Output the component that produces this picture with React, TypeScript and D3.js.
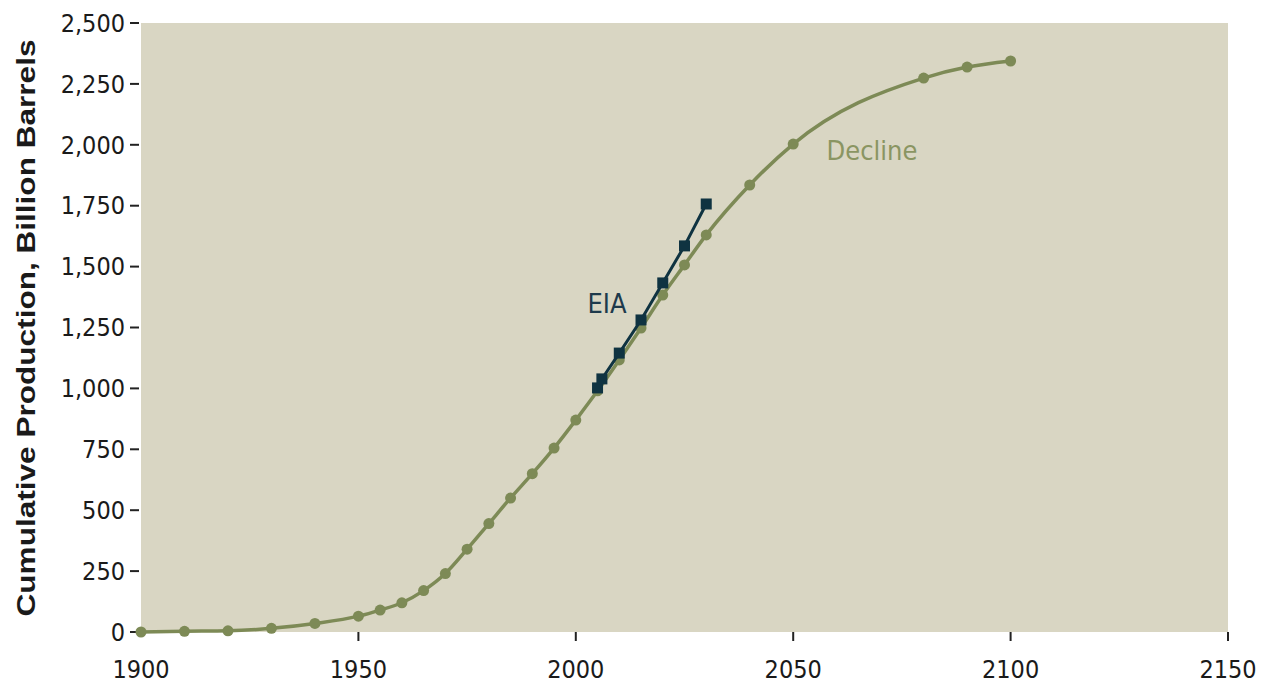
import React from "react";
import * as d3 from "d3";

const declineYears = [1900, 1910, 1920, 1930, 1940, 1950, 1955, 1960, 1965, 1970, 1975, 1980, 1985, 1990, 1995, 2000, 2005, 2010, 2015, 2020, 2025, 2030, 2040, 2050, 2080, 2090, 2100];
const declineValues = [0, 3, 5, 15, 35, 65, 90, 120, 170, 240, 340, 445, 550, 650, 755, 870, 990, 1117, 1248, 1383, 1507, 1630, 1835, 2003, 2274, 2319, 2344];
const eiaYears = [2005, 2006, 2010, 2015, 2020, 2025, 2030];
const eiaValues = [1002, 1039, 1145, 1281, 1433, 1585, 1757];
const yTicks = [0, 250, 500, 750, 1000, 1250, 1500, 1750, 2000, 2250, 2500];
const xTicks = [1900, 1950, 2000, 2050, 2100, 2150];

const W = 1267, H = 685;
const left = 141, right = 1228, top = 23, bottom = 632;
const font = "'Liberation Sans Narrow', 'DejaVu Sans Condensed', 'Liberation Sans', sans-serif";

export default function App() {
  const x = d3.scaleLinear().domain([1900, 2150]).range([left, right]);
  const y = d3.scaleLinear().domain([0, 2500]).range([bottom, top]);
  const decl = declineYears.map((yr, i) => [yr, declineValues[i]] as [number, number]);
  const eia = eiaYears.map((yr, i) => [yr, eiaValues[i]] as [number, number]);
  const lineSmooth = d3.line<[number, number]>().x(d => x(d[0])).y(d => y(d[1])).curve(d3.curveMonotoneX);
  const lineStraight = d3.line<[number, number]>().x(d => x(d[0])).y(d => y(d[1]));
  const fmt = d3.format(",");
  const declColor = "#7d8a56";
  const eiaColor = "#0f3341";
  return (
    <svg width={W} height={H} style={{ position: "absolute", left: 0, top: 0, background: "#fff" }}>
      <rect x={left} y={top} width={right - left} height={bottom - top} fill="#d9d6c3" />
      {yTicks.map(t => (
        <g key={t}>
          <line x1={130} x2={139} y1={y(t)} y2={y(t)} stroke="#222" strokeWidth={2} />
          <text x={125} y={y(t)} dy="0.35em" textAnchor="end" fontFamily={font} fontSize={25} fill="#1a1a1a">{fmt(t)}</text>
        </g>
      ))}
      {xTicks.map(t => (
        <g key={t}>
          {t !== 1900 && <line x1={x(t)} x2={x(t)} y1={bottom} y2={bottom + 9} stroke="#222" strokeWidth={2} />}
          <text x={x(t)} y={678} textAnchor="middle" fontFamily={font} fontSize={25} fill="#1a1a1a">{t}</text>
        </g>
      ))}
      <text transform={`translate(35, 328) rotate(-90)`} textAnchor="middle" fontFamily="'Liberation Sans', Arial, sans-serif" fontWeight="bold" fontSize={26} textLength={577} lengthAdjust="spacingAndGlyphs" fill="#1a1a1a">Cumulative Production, Billion Barrels</text>
      <path d={lineSmooth(decl) || ""} fill="none" stroke={declColor} strokeWidth={3.5} />
      {decl.map((d, i) => (
        <circle key={i} cx={x(d[0])} cy={y(d[1])} r={5.5} fill={declColor} />
      ))}
      <path d={lineStraight(eia) || ""} fill="none" stroke={eiaColor} strokeWidth={3} />
      {eia.map((d, i) => (
        <rect key={i} x={x(d[0]) - 5.5} y={y(d[1]) - 5.5} width={11} height={11} fill={eiaColor} />
      ))}
      <text x={607} y={313} textAnchor="middle" fontFamily={font} fontSize={27} fill="#1e3a4c">EIA</text>
      <text x={872} y={160} textAnchor="middle" fontFamily={font} fontSize={27} fill="#8a9562">Decline</text>
    </svg>
  );
}
